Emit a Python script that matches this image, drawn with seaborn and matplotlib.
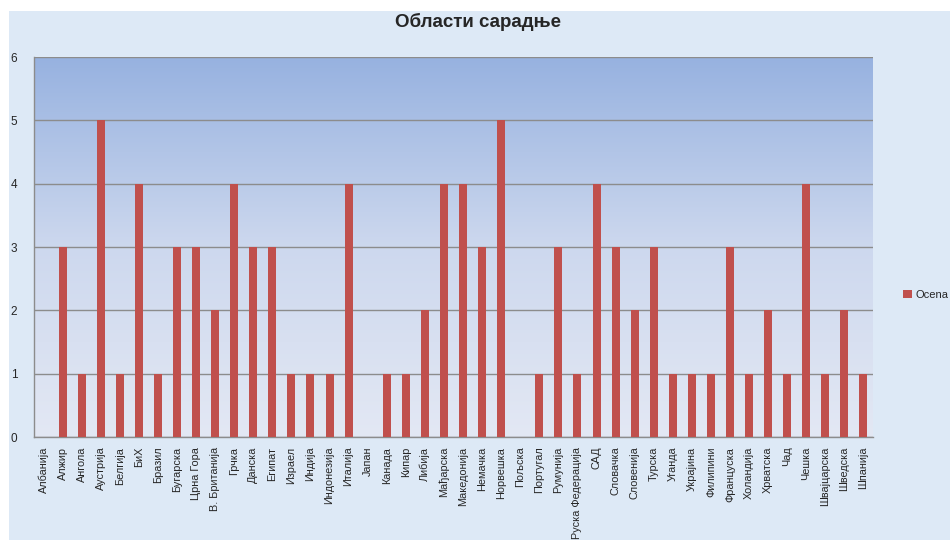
import matplotlib
matplotlib.use('Agg')
import matplotlib.pyplot as plt
import numpy as np
import pandas as pd
import seaborn as sns
from matplotlib.colors import LinearSegmentedColormap
from matplotlib.patches import Rectangle

sns.set_style("white")
plt.rcParams['font.family'] = ['Liberation Sans', 'DejaVu Sans']

# данни
zemlje = ['Албанија', 'Алжир', 'Ангола', 'Аустрија', 'Белгија', 'БиХ', 'Бразил',
          'Бугарска', 'Црна Гора', 'В. Британија', 'Грчка', 'Данска', 'Египат',
          'Израел', 'Индија', 'Индонезија', 'Италија', 'Јапан', 'Канада', 'Кипар',
          'Либија', 'Мађарска', 'Македонија', 'Немачка', 'Норвешка', 'Пољска',
          'Португал', 'Румунија', 'Руска Федерација', 'САД', 'Словачка',
          'Словенија', 'Турска', 'Уганда', 'Украјина', 'Филипини', 'Француска',
          'Холандија', 'Хрватска', 'Чад', 'Чешка', 'Швајцарска', 'Шведска',
          'Шпанија']
ocena = [0, 3, 1, 5, 1, 4, 1, 3, 3, 2, 4, 3, 3, 1, 1, 1, 4, 0, 1, 1, 2, 4, 4, 3,
         5, 0, 1, 3, 1, 4, 3, 2, 3, 1, 1, 1, 3, 1, 2, 1, 4, 1, 2, 1]
y_ticks = [0, 1, 2, 3, 4, 5, 6]

df = pd.DataFrame({'Zemlja': zemlje, 'Ocena': ocena})

fig = plt.figure(figsize=(9.5, 5.4), dpi=100)
fig.patch.set_facecolor('white')
# pozadina grafikona (svetlo plava)
fig.patches.append(Rectangle((9 / 950, 0), 1, 1 - 11 / 540, transform=fig.transFigure,
                             facecolor='#dde9f6', edgecolor='none', zorder=-10))

ax = fig.add_axes([34 / 950, 1 - 437 / 540, (873 - 34) / 950, (437 - 57) / 540])
ax.set_facecolor('none')

# gradijent u oblasti crtanja
grad = LinearSegmentedColormap.from_list('g', ['#e3e8f4', '#cdd8ee', '#97b2e0'])
ax.imshow(np.linspace(0, 1, 256).reshape(-1, 1), cmap=grad, aspect='auto',
          extent=[0, 1, 0, 1], origin='lower', transform=ax.transAxes, zorder=-5)

sns.barplot(data=df, x='Zemlja', y='Ocena', color='#c0504d', saturation=1,
            width=0.42, ax=ax, zorder=3, linewidth=0, edgecolor='none')

ax.set_xlim(-0.5, len(zemlje) - 0.5)
ax.set_ylim(0, 6)
ax.set_yticks(y_ticks)
ax.yaxis.grid(True, color='#8c8c8c', linewidth=1.0)
ax.set_axisbelow(True)
ax.set_xlabel('')
ax.set_ylabel('')

for side in ['top', 'right']:
    ax.spines[side].set_visible(False)
for side in ['left', 'bottom']:
    ax.spines[side].set_color('#8c8c8c')
    ax.spines[side].set_linewidth(1.0)

ax.set_xticks(range(len(zemlje)))
ax.set_xticklabels(zemlje, rotation=90, fontsize=7.8, va='top', ha='center')
ax.set_xticks(np.arange(-0.5, len(zemlje), 1), minor=True)
ax.tick_params(axis='x', which='major', length=0, pad=7)
ax.tick_params(axis='x', which='minor', length=4, color='#8c8c8c', direction='out')
ax.tick_params(axis='y', length=4, color='#8c8c8c', direction='out', labelsize=8.5, pad=8)

fig.text(478 / 950, 1 - 22 / 540, 'Области сарадње', ha='center', va='center',
         fontsize=13.5, fontweight='bold')

h = Rectangle((0, 0), 1, 1, facecolor='#c0504d', edgecolor='none')
fig.legend([h], ['Ocena'], loc='center left', bbox_to_anchor=(899 / 950, 1 - 295 / 540),
           frameon=False, fontsize=8, handlelength=0.8, handleheight=0.8,
           handletextpad=0.3, borderaxespad=0)

fig.savefig('out.png', dpi=100, facecolor=fig.get_facecolor())
